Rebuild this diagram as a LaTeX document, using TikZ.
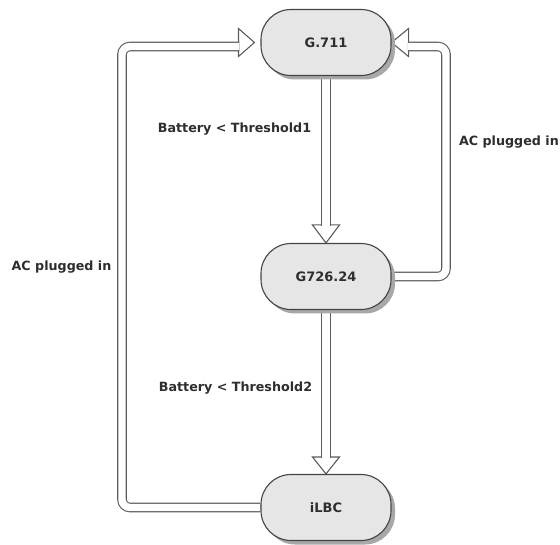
\documentclass[tikz,border=0pt]{standalone}
\usepackage{fontspec}
\setmainfont{DejaVu Sans}
\usetikzlibrary{shadows,calc}
\pgfdeclarelayer{wires}
\pgfsetlayers{wires,main}
\definecolor{edgegray}{HTML}{5C5C5C}
\definecolor{nodeline}{HTML}{444444}
\definecolor{nodefill}{HTML}{E6E6E6}
\definecolor{shadowgray}{HTML}{A8A8A8}
\definecolor{txt}{HTML}{2E2E2E}
\begin{document}
\begin{tikzpicture}[x=1pt,y=-1pt,
  codec/.style={draw=nodeline, line width=1.1pt, fill=nodefill,
    rounded corners=30pt, minimum width=130pt, minimum height=66pt,
    font=\bfseries\fontsize{13}{15}\selectfont, text=txt,
    drop shadow={shadow xshift=4pt, shadow yshift=-4pt, fill=shadowgray, opacity=1}},
  pipe/.style={draw=edgegray, line width=1.1pt, double=white,
    double distance=7.4pt, rounded corners=8pt},
  tiphead/.style={draw=edgegray, line width=1.1pt, fill=white, line join=miter},
  lbl/.style={font=\bfseries\fontsize{12.7}{14}\selectfont, text=txt}]
\useasboundingbox (0,0) rectangle (560,545);

% codec states
\node[codec] (g711) at (326,42.5) {G.711};
\node[codec] (g726) at (326,276.5) {G726.24};
\node[codec] (ilbc) at (326,507.5) {iLBC};

% guide columns of the two return loops
\coordinate (lx) at (122,0);
\coordinate (rx) at (446,0);

% head bases and stem ends
\coordinate (h1) at ($(g726.north)+(0,-18)$);
\coordinate (h2) at ($(ilbc.north)+(0,-17)$);
\coordinate (tl) at ($(g711.west)+(-6,0)$);
\coordinate (bl) at ($(tl)+(-16,0)$);
\coordinate (el) at ($(bl)+(0.8,4)$);
\coordinate (tr) at (g711.east);
\coordinate (br) at ($(tr)+(17,0)$);
\coordinate (er) at ($(br)+(-0.8,4)$);

\begin{pgfonlayer}{wires}
  % hollow arrow heads
  \draw[tiphead] ($(h1)+(-13.5,0)$) -- (g726.north) -- ($(h1)+(13.5,0)$) -- cycle;
  \draw[tiphead] ($(h2)+(-13.5,0)$) -- (ilbc.north) -- ($(h2)+(13.5,0)$) -- cycle;
  \draw[tiphead] ($(bl)+(0,-14)$) -- (tl) -- ($(bl)+(0,14)$) -- cycle;
  \draw[tiphead] ($(br)+(0,-14)$) -- (tr) -- ($(br)+(0,14)$) -- cycle;
  % hollow stems
  \draw[pipe] (g711.south) -- ($(h1)+(0,0.8)$);
  \draw[pipe] (g726.south) -- ($(h2)+(0,0.8)$);
  \draw[pipe] (ilbc.west) -- (ilbc.west -| lx) -- (lx |- el) -- (el);
  \draw[pipe] (g726.east) -- (g726.east -| rx) -- (rx |- er) -- (er);
\end{pgfonlayer}

% transition labels
\node[lbl] (b1) at (234.5,129) {Battery < Threshold1};
\node[lbl] (b2) at (235.5,388) {Battery < Threshold2};
\node[lbl] (acl) at (61.5,267) {AC plugged in};
\node[lbl, anchor=east, inner xsep=1pt] (acr) at (560,142) {AC plugged in};
\end{tikzpicture}
\end{document}
